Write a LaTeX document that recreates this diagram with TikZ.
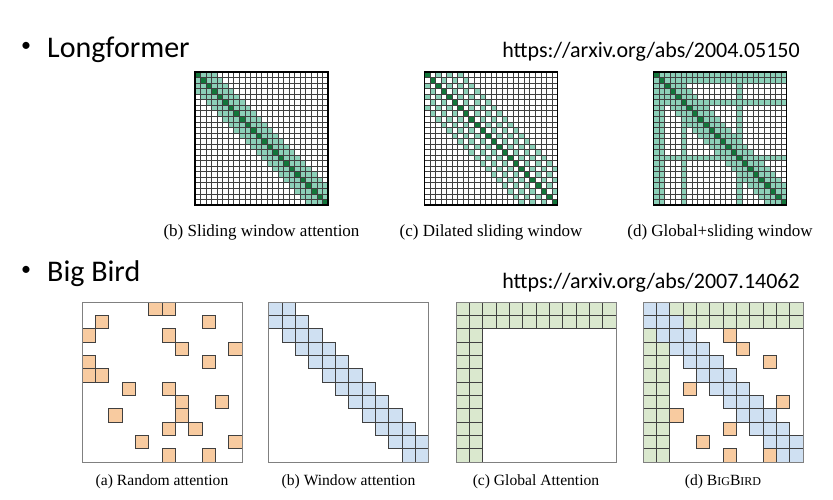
\documentclass[tikz,border=0pt]{standalone}
\usepackage{fontspec}
\setmainfont{Liberation Serif}
\newfontfamily\slidefont{Carlito}
\usetikzlibrary{positioning}
\definecolor{lflight}{RGB}{140,208,184}
\definecolor{lfdark}{RGB}{18,118,58}
\definecolor{bborange}{RGB}{248,203,160}
\definecolor{bbblue}{RGB}{207,224,242}
\definecolor{bbgreen}{RGB}{218,232,206}

\begin{document}
\begin{tikzpicture}[x=1pt, y=-1pt, node distance=19pt,
    lfbox/.style={draw=black, line width=1.8pt, minimum size=133pt, inner sep=0},
    bbbox/.style={draw=black!50, line width=1pt, minimum size=160pt, inner sep=0},
    lgrid/.style={draw=black!75, line width=0.7pt},
    bbcell/.style={draw=black!75, line width=0.6pt},
    lfcap/.style={inner sep=0, font=\fontsize{17}{20}\selectfont},
    bbcap/.style={inner sep=0, font=\fontsize{15.6}{18}\selectfont},
    bullet/.style={inner sep=0, font=\slidefont\fontsize{20}{24}\selectfont},
    head/.style={inner sep=0, anchor=base west, font=\slidefont\fontsize{30}{36}\selectfont},
    link/.style={inner sep=0, anchor=base east, font=\slidefont\fontsize{22}{26}\selectfont}]
    \useasboundingbox[fill=white] (0,0) rectangle (833,499);

    % titles
    \node[bullet] (dot1) at (26,47) {•};
    \node[head] (lf)   at (47,57) {Longformer};
    \node[link] (lfurl) at (800,57) {https://arxiv.org/abs/2004.05150};
    \node[bullet] (dot2) at (26,271) {•};
    \node[head] (bb)   at (47,281) {Big Bird};
    \node[link] (bburl) at (800,288) {https://arxiv.org/abs/2007.14062};

    % sliding window
    \begin{scope}[shift={(195,72)}, x=5.5417pt, y=-5.5417pt]
        \foreach \i in {0,...,23}{
            \foreach \j in {0,...,23}{
                \pgfmathtruncatemacro\d{abs(\i-\j)}
                \ifnum\d=0 \fill[lfdark] (\j,\i) rectangle ++(1,1);
                \else\ifnum\d<4 \fill[lflight] (\j,\i) rectangle ++(1,1);\fi\fi
            }
        }
        \foreach \k in {1,...,23}{
            \draw[lgrid] (\k,0) -- (\k,24);
            \draw[lgrid] (0,\k) -- (24,\k);
        }
    \end{scope}
    % dilated
    \begin{scope}[shift={(424.5,72)}, x=5.5417pt, y=-5.5417pt]
        \foreach \i in {0,...,23}{
            \foreach \j in {0,...,23}{
                \pgfmathtruncatemacro\d{abs(\i-\j)}
                \ifnum\d=0 \fill[lfdark] (\j,\i) rectangle ++(1,1);
                \else\ifodd\d\else\ifnum\d<7 \fill[lflight] (\j,\i) rectangle ++(1,1);\fi\fi\fi
            }
        }
        \foreach \k in {1,...,23}{
            \draw[lgrid] (\k,0) -- (\k,24);
            \draw[lgrid] (0,\k) -- (24,\k);
        }
    \end{scope}
    % global + sliding
    \begin{scope}[shift={(653.5,72)}, x=5.5417pt, y=-5.5417pt]
        \foreach \i in {0,...,23}{
            \foreach \j in {0,...,23}{
                \pgfmathtruncatemacro\d{abs(\i-\j)}
                \pgfmathtruncatemacro\g{(\i<2)||(\j<2)||(\i==5)||(\j==5)||(\i==15)||(\j==15)}
                \ifnum\d=0 \fill[lfdark] (\j,\i) rectangle ++(1,1);
                \else\ifnum\d<4 \fill[lflight] (\j,\i) rectangle ++(1,1);
                \else\ifnum\g=1 \fill[lflight] (\j,\i) rectangle ++(1,1);\fi\fi\fi
            }
        }
        \foreach \k in {1,...,23}{
            \draw[lgrid] (\k,0) -- (\k,24);
            \draw[lgrid] (0,\k) -- (24,\k);
        }
    \end{scope}

    \node[lfbox] (sw) at (261.5,138.5) {};
    \node[lfbox] (dw) at (491,138.5) {};
    \node[lfbox] (gw) at (720,138.5) {};
    \node[lfcap, below=of sw] (swcap) {(b) Sliding window attention};
    \node[lfcap, below=of dw] (dwcap) {(c) Dilated sliding window};
    \node[lfcap, below=of gw] (gwcap) {(d) Global+sliding window};

    % random
    \begin{scope}[shift={(82,302)}, x=13.333pt, y=-13.333pt]
        \foreach \c/\r in {5/0,6/0,1/1,9/1,0/2,6/2,7/3,11/3,0/4,9/4,0/5,1/5,
                           3/6,6/6,7/7,10/7,2/8,7/8,6/9,8/9,4/10,11/10,6/11,9/11}
            \draw[bbcell, fill=bborange] (\c,\r) rectangle ++(1,1);
    \end{scope}
    % window
    \begin{scope}[shift={(268.5,302)}, x=13.333pt, y=-13.333pt]
        \foreach \i in {0,...,11}{
            \foreach \j in {0,...,11}{
                \pgfmathtruncatemacro\d{abs(\i-\j)}
                \ifnum\d<2 \draw[bbcell, fill=bbblue] (\j,\i) rectangle ++(1,1);\fi
            }
        }
    \end{scope}
    % global
    \begin{scope}[shift={(456,302)}, x=13.333pt, y=-13.333pt]
        \foreach \i in {0,...,11}{
            \foreach \j in {0,...,11}{
                \pgfmathtruncatemacro\g{(\i<2)||(\j<2)}
                \ifnum\g=1 \draw[bbcell, fill=bbgreen] (\j,\i) rectangle ++(1,1);\fi
            }
        }
    \end{scope}
    % bigbird
    \begin{scope}[shift={(643,302)}, x=13.333pt, y=-13.333pt]
        \foreach \i in {0,...,11}{
            \foreach \j in {0,...,11}{
                \pgfmathtruncatemacro\d{abs(\i-\j)}
                \pgfmathtruncatemacro\g{(\i<2)||(\j<2)}
                \ifnum\d<2 \draw[bbcell, fill=bbblue] (\j,\i) rectangle ++(1,1);
                \else\ifnum\g=1 \draw[bbcell, fill=bbgreen] (\j,\i) rectangle ++(1,1);\fi\fi
            }
        }
        \foreach \c/\r in {6/2,7/3,9/4,3/6,10/7,2/8,6/9,4/10,6/11,9/11}
            \draw[bbcell, fill=bborange] (\c,\r) rectangle ++(1,1);
    \end{scope}

    \node[bbbox] (ra) at (162,382) {};
    \node[bbbox] (wa) at (348.5,382) {};
    \node[bbbox] (ga) at (536,382) {};
    \node[bbbox] (bba) at (723,382) {};
    \node[bbcap, below=12pt of ra] (racap) {(a) Random attention};
    \node[bbcap, below=12pt of wa] (wacap) {(b) Window attention};
    \node[bbcap, below=12pt of ga] (gacap) {(c) Global Attention};
    \node[bbcap, below=12pt of bba] (bbcap) {(d) B{\fontsize{12}{14}\selectfont IG}B{\fontsize{12}{14}\selectfont IRD}};
\end{tikzpicture}
\end{document}
